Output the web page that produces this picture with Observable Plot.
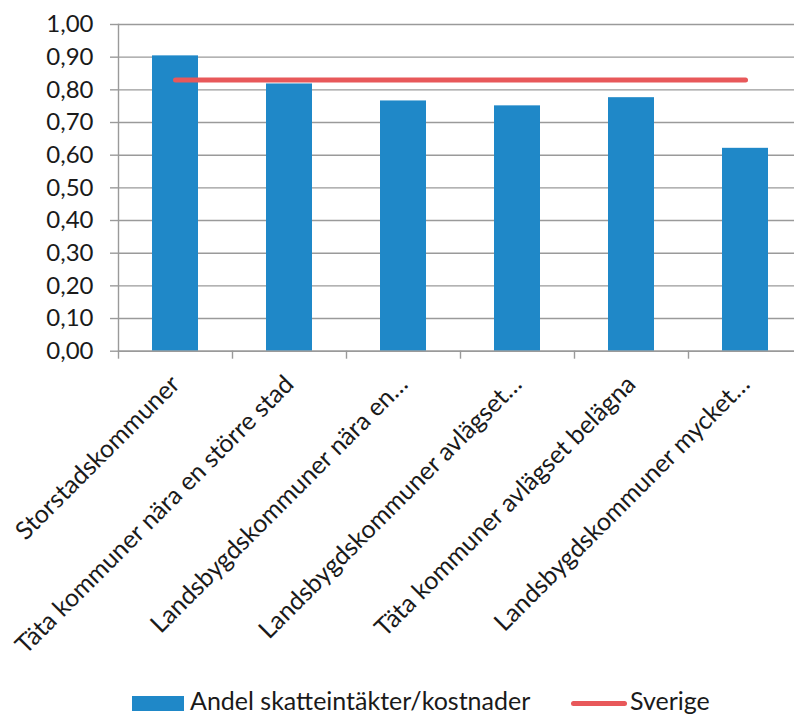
<!DOCTYPE html>
<html>
<head>
<meta charset="utf-8">
<script src="https://cdn.jsdelivr.net/npm/d3@7"></script>
<script src="https://cdn.jsdelivr.net/npm/@observablehq/plot@0.6"></script>
<style>
  html, body { margin: 0; padding: 0; background: #fff; overflow: hidden; }
  #chart { width: 794px; position: relative; }
  #legend { position: relative; width: 794px; height: 35px; font-family: Lato, sans-serif; font-size: 25px; color: #1a1a1a; }
  #legend .item { position: absolute; line-height: 25px; white-space: nowrap; }
  #legend .swatch { position: absolute; }
</style>
</head>
<body>
<div id="chart"></div>
<div id="legend">
  <span class="swatch" style="left:132px; top:16px; width:52px; height:15px; background:#1f88c8;"></span>
  <span class="item" style="left:190px; top:8px;">Andel skatteintäkter/kostnader</span>
  <span class="swatch" style="left:571px; top:21px; width:56px; height:5px; border-radius:3px; background:#e8585a;"></span>
  <span class="item" style="left:630px; top:8px;">Sverige</span>
</div>
<script>
// Kommungrupper
const categories = [
  "Storstadskommuner",
  "Täta kommuner nära en större stad",
  "Landsbygdskommuner nära en…",
  "Landsbygdskommuner avlägset…",
  "Täta kommuner avlägset belägna",
  "Landsbygdskommuner mycket…"
];
// Andel skatteintäkter/kostnader per kommungrupp
const andel = [0.904, 0.818, 0.766, 0.751, 0.776, 0.621];
// Riksgenomsnitt
const sverige = 0.83;
const yTicks = [0, 0.1, 0.2, 0.3, 0.4, 0.5, 0.6, 0.7, 0.8, 0.9, 1.0];

const bars = categories.map((c, i) => ({c, v: andel[i]}));
const riket = categories.map(c => ({c, v: sverige}));

const fmt = d => d.toFixed(2).replace(".", ",");
const gray = "#9a9a9a";
const ink = "#1a1a1a";

const plot = Plot.plot({
  width: 794,
  height: 680,
  marginTop: 24,
  marginBottom: 329.3,
  marginLeft: 118,
  marginRight: 0,
  style: {fontFamily: "Lato, sans-serif", fontSize: "24px", color: ink, overflow: "visible"},
  x: {domain: categories, range: [118, 802], paddingInner: 0.6, paddingOuter: 0.3},
  y: {domain: [0, 1]},
  marks: [
    Plot.gridY(yTicks, {stroke: gray, strokeOpacity: 1, strokeWidth: 1.4}),
    Plot.barY(bars, {x: "c", y: "v", fill: "#1f88c8"}),
    Plot.frame({anchor: "left", stroke: gray, strokeWidth: 1.4}),
    Plot.ruleY([0], {stroke: gray, strokeWidth: 1.6}),
    Plot.axisY({
      ticks: yTicks, tickFormat: fmt, tickSize: 8, tickPadding: 17,
      stroke: gray, strokeWidth: 1.4, fill: ink, fontSize: 24, label: null
    }),
    // tick marks at the category boundaries
    Plot.axisX({tickSize: 8, dx: -57, text: null, stroke: gray, strokeWidth: 1.4, label: null}),
    Plot.axisX({
      tickSize: 0, tickPadding: 29, tickRotate: -45,
      textAnchor: "end", lineAnchor: "middle",
      fill: ink, fontSize: 25, label: null
    }),
    Plot.lineY(riket, {x: "c", y: "v", stroke: "#e8585a", strokeWidth: 5, strokeLinecap: "round"})
  ]
});
document.getElementById("chart").appendChild(plot);
</script>
</body>
</html>
